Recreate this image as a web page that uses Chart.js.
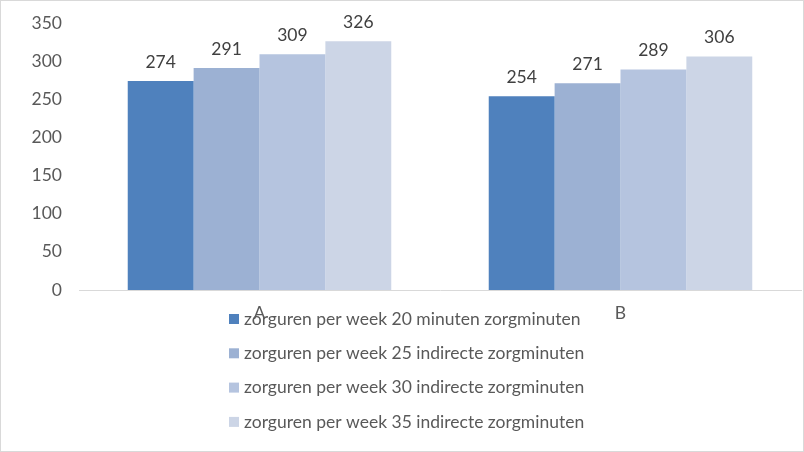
<!DOCTYPE html>
<html>
<head>
<meta charset="utf-8">
<script src="https://cdn.jsdelivr.net/npm/chart.js@4"></script>
<style>
  body { margin: 0; background: #fff; }
  #wrap { width: 804px; height: 452px; }
</style>
</head>
<body>
<div id="wrap"><canvas id="zorgChart" width="804" height="452"></canvas></div>
<script>
const categories = ["A", "B"];
const seriesNames = [
    "zorguren per week 20 minuten zorgminuten",
    "zorguren per week 25 indirecte zorgminuten",
    "zorguren per week 30 indirecte zorgminuten",
    "zorguren per week 35 indirecte zorgminuten"
];
const uren20 = [274, 254];
const uren25 = [291, 271];
const uren30 = [309, 289];
const uren35 = [326, 306];
const colors = ["#4f81bd", "#9cb1d3", "#b5c4df", "#ccd5e6"];

const FONT = "Lato, 'Open Sans', sans-serif";
const FSIZE = 17.5;

// bar value labels above each bar
const valueLabels = {
    id: "valueLabels",
    afterDatasetsDraw(chart) {
        const ctx = chart.ctx;
        ctx.save();
        ctx.font = FSIZE + "px " + FONT;
        ctx.fillStyle = "#404040";
        ctx.textAlign = "center";
        ctx.textBaseline = "middle";
        chart.data.datasets.forEach((ds, i) => {
            chart.getDatasetMeta(i).data.forEach((bar, j) => {
                ctx.fillText(ds.data[j], bar.x, bar.y - 19);
            });
        });
        ctx.restore();
    }
};

// excel style legend, sits over the category labels
const sideLegend = {
    id: "sideLegend",
    afterDraw(chart) {
        const ctx = chart.ctx;
        ctx.save();
        ctx.font = FSIZE + "px " + FONT;
        ctx.textBaseline = "middle";
        ctx.textAlign = "left";
        chart.data.datasets.forEach((ds, i) => {
            const y = 319 + i * 34.3;
            ctx.fillStyle = ds.backgroundColor;
            ctx.fillRect(229, y - 5, 10, 10);
            ctx.fillStyle = "#595959";
            ctx.fillText(ds.label, 244, y);
        });
        // outer frame
        ctx.strokeStyle = "#d9d9d9";
        ctx.lineWidth = 1;
        ctx.strokeRect(0.5, 0.5, 803, 451);
        ctx.restore();
    }
};

new Chart("zorgChart", {
    type: "bar",
    data: {
        labels: categories,
        datasets: [
            { label: seriesNames[0], data: uren20, backgroundColor: colors[0] },
            { label: seriesNames[1], data: uren25, backgroundColor: colors[1] },
            { label: seriesNames[2], data: uren30, backgroundColor: colors[2] },
            { label: seriesNames[3], data: uren35, backgroundColor: colors[3] }
        ]
    },
    options: {
        responsive: false,
        animation: false,
        layout: { padding: { top: 23, right: 3, left: 0, bottom: 0 } },
        datasets: { bar: { barPercentage: 1, categoryPercentage: 0.73 } },
        plugins: {
            legend: { display: false },
            tooltip: { enabled: false }
        },
        scales: {
            x: {
                grid: { display: false, drawTicks: false },
                border: { color: "#d9d9d9", width: 1 },
                ticks: { color: "#595959", font: { family: FONT, size: FSIZE }, padding: 13 },
                afterFit(scale) { scale.height = 162; }
            },
            y: {
                min: 0,
                max: 350,
                grid: { display: false, drawTicks: false },
                border: { display: false },
                ticks: { stepSize: 50, color: "#595959", font: { family: FONT, size: FSIZE }, padding: 17 },
                afterFit(scale) {
                    scale.width = 79;
                    scale.paddingTop = 0;
                    scale.paddingBottom = 0;
                }
            }
        }
    },
    plugins: [valueLabels, sideLegend]
});
</script>
</body>
</html>
